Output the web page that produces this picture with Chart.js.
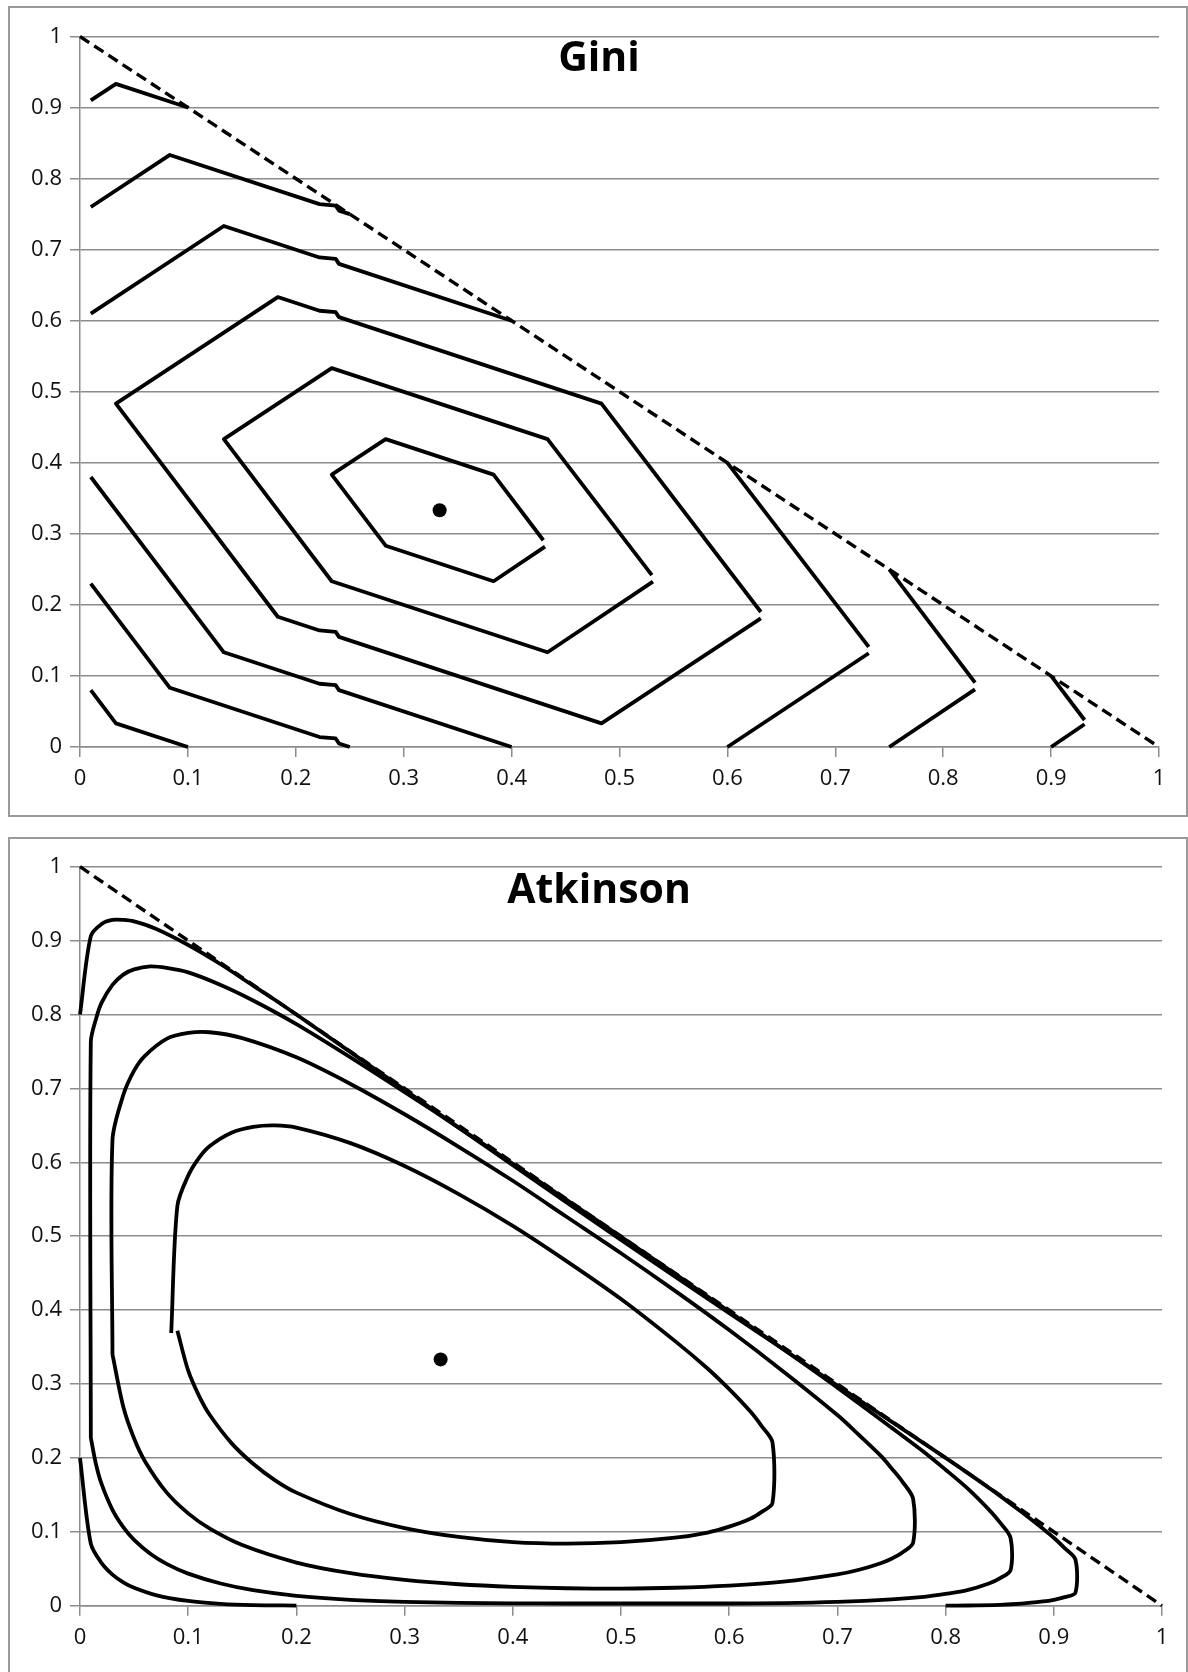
<!DOCTYPE html>
<html>
<head>
<meta charset="utf-8">
<script src="https://cdn.jsdelivr.net/npm/chart.js@4.4.1/dist/chart.umd.min.js"></script>
<style>
  html, body { margin: 0; padding: 0; background: #fff; }
  body { position: relative; width: 1188px; height: 1672px; overflow: hidden; }
  .frame { position: absolute; box-sizing: border-box; border: 2px solid #9a9a9a; }
  #frame-gini { left: 8px; top: 6px; width: 1180px; height: 811px; }
  #frame-atk { left: 8px; top: 837px; width: 1180px; height: 880px; }
  canvas { position: absolute; left: 0; }
  #gini-chart { top: 0; }
  #atkinson-chart { top: 830px; }
</style>
</head>
<body>
<div class="frame" id="frame-gini"></div>
<div class="frame" id="frame-atk"></div>
<canvas id="gini-chart" width="1188" height="820"></canvas>
<canvas id="atkinson-chart" width="1188" height="842"></canvas>
<script>
// axis ticks (same on both panels)
const tickValues = [0, 0.1, 0.2, 0.3, 0.4, 0.5, 0.6, 0.7, 0.8, 0.9, 1];
const xTickLabels = ['0', '0.1', '0.2', '0.3', '0.4', '0.5', '0.6', '0.7', '0.8', '0.9', '1'];
const yTickLabels = ['0', '0.1', '0.2', '0.3', '0.4', '0.5', '0.6', '0.7', '0.8', '0.9', '1'];

// boundary x + y = 1 and the equal-shares point
const boundaryLine = [[0, 1], [1, 0]];
const equalPoint = [[0.3333, 0.3333]];

// Gini contours, one list of segments per level
const giniLevel01 = [
  [[0.431, 0.282], [0.3833, 0.2333], [0.2833, 0.2833], [0.2333, 0.3833], [0.2833, 0.4333], [0.3833, 0.3833], [0.4294, 0.291]]
];
const giniLevel02 = [
  [[0.531, 0.2327], [0.4333, 0.1333], [0.2333, 0.2333], [0.1333, 0.4333], [0.2333, 0.5333], [0.4333, 0.4333], [0.53, 0.242]]
];
const giniLevel03 = [
  [[0.631, 0.181], [0.4833, 0.0333], [0.24, 0.155], [0.237, 0.162], [0.222, 0.164], [0.1833, 0.1833], [0.0333, 0.4833],
   [0.1833, 0.6333], [0.222, 0.614], [0.237, 0.612], [0.24, 0.605], [0.4833, 0.4833], [0.631, 0.19]]
];
const giniLevel04 = [
  [[0.01, 0.61], [0.1333, 0.7333], [0.222, 0.689], [0.237, 0.687], [0.24, 0.68], [0.4, 0.6]],
  [[0.6, 0.4], [0.731, 0.141]],
  [[0.731, 0.132], [0.6, 0]],
  [[0.01, 0.38], [0.1333, 0.1333], [0.222, 0.089], [0.237, 0.087], [0.24, 0.08], [0.4, 0]]
];
const giniLevel05 = [
  [[0.01, 0.76], [0.0833, 0.8333], [0.222, 0.764], [0.237, 0.762], [0.24, 0.755], [0.25, 0.75]],
  [[0.75, 0.25], [0.8295, 0.0905]],
  [[0.8295, 0.081], [0.75, 0]],
  [[0.01, 0.23], [0.0833, 0.0833], [0.222, 0.014], [0.237, 0.012], [0.24, 0.005], [0.25, 0]]
];
const giniLevel06 = [
  [[0.01, 0.91], [0.0333, 0.9333], [0.1, 0.9]],
  [[0.9, 0.1], [0.931, 0.038]],
  [[0.931, 0.032], [0.9, 0]],
  [[0.01, 0.08], [0.0333, 0.0333], [0.1, 0]]
];

// Atkinson contours (bottom panel), outermost first
const atkinsonLevel1 = [
  [[0, 0.8], [0.01, 0.906], [0.02, 0.9225], [0.03, 0.928], [0.04, 0.928], [0.05, 0.926], [0.07, 0.916], [0.1, 0.894],
   [0.13, 0.868], [0.16, 0.839], [0.18, 0.82], [0.2, 0.8], [0.3, 0.698], [0.4, 0.596], [0.5, 0.495], [0.6, 0.396],
   [0.7, 0.298], [0.8, 0.2], [0.82, 0.18], [0.85, 0.149], [0.87, 0.127], [0.89, 0.104], [0.9, 0.092], [0.91, 0.078],
   [0.92, 0.0625], [0.92, 0.0176], [0.91, 0.0116], [0.9, 0.008], [0.89, 0.0057], [0.87, 0.0027], [0.85, 0.0012],
   [0.82, 0.0003], [0.8, 0.0002]],
  [[0, 0.2], [0.01, 0.084], [0.02, 0.0575], [0.03, 0.042], [0.04, 0.0317], [0.05, 0.0243], [0.07, 0.0144],
   [0.1, 0.0064], [0.13, 0.0025], [0.16, 0.0008], [0.2, 0.0002]]
];
const atkinsonLevel2 = [
  [[0.01, 0.227], [0.01, 0.763], [0.015, 0.795], [0.02, 0.816], [0.03, 0.84], [0.04, 0.854], [0.05, 0.861],
   [0.065, 0.865], [0.08, 0.863], [0.1, 0.857], [0.13, 0.84], [0.16, 0.819], [0.2, 0.787], [0.25, 0.742],
   [0.3, 0.695], [0.35, 0.647], [0.4, 0.598], [0.45, 0.549], [0.5, 0.499], [0.55, 0.449], [0.6, 0.398],
   [0.65, 0.347], [0.7, 0.295], [0.75, 0.241], [0.78, 0.208], [0.8, 0.184], [0.82, 0.159], [0.84, 0.13],
   [0.85, 0.113], [0.86, 0.092], [0.86, 0.048], [0.85, 0.037], [0.84, 0.03], [0.82, 0.021], [0.8, 0.016],
   [0.78, 0.012], [0.75, 0.0086], [0.7, 0.0052], [0.65, 0.0035], [0.6, 0.003], [0.55, 0.003], [0.5, 0.003],
   [0.45, 0.003], [0.4, 0.0032], [0.35, 0.0038], [0.3, 0.0052], [0.25, 0.008], [0.2, 0.0134], [0.16, 0.021],
   [0.13, 0.03], [0.1, 0.0434], [0.08, 0.0566], [0.065, 0.0703], [0.05, 0.0891], [0.04, 0.1063], [0.03, 0.1297],
   [0.02, 0.1644], [0.015, 0.19], [0.01, 0.227]]
];
const atkinsonLevel3 = [
  [[0.03, 0.34], [0.03, 0.63], [0.04, 0.691], [0.05, 0.724], [0.06, 0.744], [0.08, 0.767], [0.1, 0.775],
   [0.12, 0.776], [0.15, 0.768], [0.2, 0.742], [0.25, 0.706], [0.3, 0.665], [0.35, 0.621], [0.4, 0.575],
   [0.45, 0.526], [0.5, 0.477], [0.55, 0.426], [0.6, 0.373], [0.65, 0.317], [0.7, 0.258], [0.72, 0.231],
   [0.74, 0.203], [0.75, 0.186], [0.76, 0.168], [0.77, 0.1445], [0.77, 0.0855], [0.76, 0.072], [0.75, 0.0636],
   [0.74, 0.0575], [0.72, 0.0486], [0.7, 0.0423], [0.65, 0.0325], [0.6, 0.0272], [0.55, 0.0243], [0.5, 0.0232],
   [0.45, 0.0236], [0.4, 0.0255], [0.35, 0.029], [0.3, 0.0349], [0.25, 0.044], [0.2, 0.0584], [0.15, 0.082],
   [0.12, 0.1042], [0.1, 0.1249], [0.08, 0.1533], [0.06, 0.1956], [0.05, 0.2262], [0.04, 0.2692], [0.03, 0.34]]
];
const atkinsonLevel4 = [
  [[0.0843, 0.369], [0.09, 0.541], [0.1, 0.582], [0.11, 0.606], [0.12, 0.622], [0.14, 0.64], [0.16, 0.648],
   [0.18, 0.65], [0.2, 0.647], [0.25, 0.626], [0.3, 0.595], [0.35, 0.557], [0.4, 0.514], [0.45, 0.466],
   [0.5, 0.415], [0.55, 0.358], [0.58, 0.321], [0.6, 0.293], [0.62, 0.262], [0.63, 0.243], [0.64, 0.221],
   [0.64, 0.139], [0.63, 0.127], [0.62, 0.118], [0.6, 0.107], [0.58, 0.099], [0.55, 0.092], [0.5, 0.086],
   [0.45, 0.084], [0.4, 0.086], [0.35, 0.093], [0.3, 0.105], [0.25, 0.124], [0.2, 0.153], [0.18, 0.17],
   [0.16, 0.192], [0.14, 0.22], [0.12, 0.258], [0.11, 0.284], [0.1, 0.318], [0.09, 0.372]]
];

const toPoints = (pairs) => pairs.map(([x, y]) => ({ x, y }));

const contourStyle = {
  showLine: true,
  borderColor: '#000',
  borderWidth: 3.8,
  pointRadius: 0,
  fill: false,
  tension: 0,
  clip: false,
  borderJoinStyle: 'round',
  order: 2,
};

// smooth = bezier tension for the curved (Atkinson) contours
function contourSets(levels, smooth) {
  const sets = [];
  levels.forEach((segments) => {
    segments.forEach((seg) => sets.push({ ...contourStyle, tension: smooth, data: toPoints(seg) }));
  });
  return sets;
}

function frameSets() {
  return [
    {
      data: toPoints(boundaryLine),
      showLine: true,
      borderColor: '#000',
      borderWidth: 3.4,
      borderDash: [11, 6],
      pointRadius: 0,
      fill: false,
      clip: false,
      order: 0,
    },
    {
      data: toPoints(equalPoint),
      showLine: false,
      pointRadius: 7,
      pointBackgroundColor: '#000',
      pointBorderColor: '#000',
      pointBorderWidth: 0,
      clip: false,
      order: 1,
    },
  ];
}

const panelTitle = {
  id: 'panelTitle',
  afterDraw(chart, args, opts) {
    const ctx = chart.ctx;
    ctx.save();
    ctx.font = 'bold 41px "Open Sans", sans-serif';
    ctx.fillStyle = '#000';
    ctx.textAlign = 'center';
    ctx.textBaseline = 'alphabetic';
    ctx.fillText(opts.text, opts.x, opts.y);
    ctx.restore();
  },
};

const tickFont = { family: '"Open Sans", sans-serif', size: 22 };
const gridGray = '#8c8c8c';

function buildScales() {
  return {
    x: {
      type: 'linear',
      min: 0,
      max: 1,
      afterBuildTicks: (scale) => { scale.ticks = tickValues.map((v) => ({ value: v })); },
      afterFit: (scale) => { scale.height = 60; },
      ticks: {
        callback: (v, i) => xTickLabels[i],
        font: tickFont,
        color: '#111',
        padding: 9,
        maxRotation: 0,
        autoSkip: false,
      },
      grid: { drawOnChartArea: false, drawTicks: true, tickLength: 10, color: gridGray, lineWidth: 1.5 },
      border: { display: true, color: gridGray, width: 1.5 },
    },
    y: {
      type: 'linear',
      min: 0,
      max: 1,
      afterBuildTicks: (scale) => { scale.ticks = tickValues.map((v) => ({ value: v })); },
      afterFit: (scale) => { scale.width = 70; },
      ticks: {
        callback: (v, i) => yTickLabels[i],
        font: tickFont,
        color: '#111',
        padding: 8,
        autoSkip: false,
      },
      grid: { drawTicks: true, tickLength: 10, color: gridGray, lineWidth: 1.5 },
      border: { display: true, color: gridGray, width: 1.5 },
    },
  };
}

function makeChart(canvasId, datasets, title, titleY, padding) {
  return new Chart(document.getElementById(canvasId), {
    type: 'scatter',
    data: { datasets },
    options: {
      responsive: false,
      animation: false,
      devicePixelRatio: 1,
      events: [],
      layout: { padding },
      scales: buildScales(),
      plugins: {
        legend: { display: false },
        tooltip: { enabled: false },
        panelTitle: { text: title, x: 599, y: titleY },
      },
    },
    plugins: [panelTitle],
  });
}

makeChart(
  'gini-chart',
  [...frameSets(), ...contourSets([giniLevel01, giniLevel02, giniLevel03, giniLevel04, giniLevel05, giniLevel06], 0)],
  'Gini',
  71,
  { left: 10, top: 36.5, right: 29, bottom: 13 }
);

makeChart(
  'atkinson-chart',
  [...frameSets(), ...contourSets([atkinsonLevel1, atkinsonLevel2, atkinsonLevel3, atkinsonLevel4], 0.3)],
  'Atkinson',
  72.5,
  { left: 10, top: 36.7, right: 26, bottom: 6.3 }
);
</script>
</body>
</html>
